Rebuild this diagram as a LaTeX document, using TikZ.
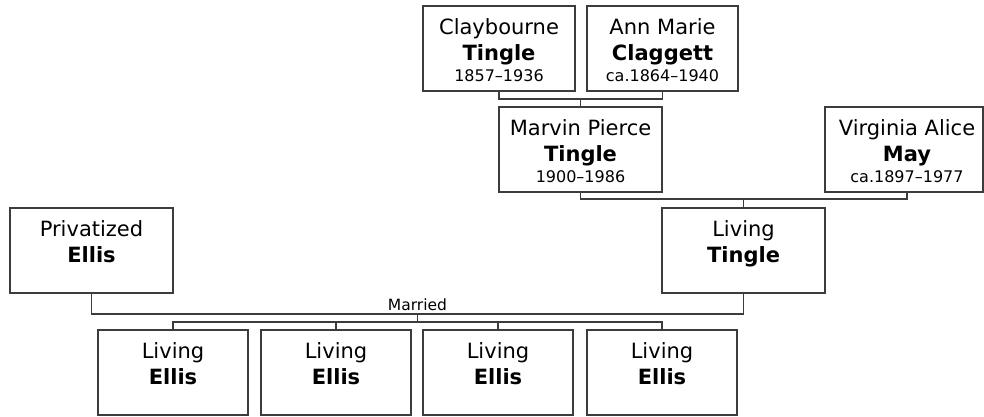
\documentclass[tikz,border=0pt]{standalone}
\usepackage{fontspec}
\setmainfont{DejaVu Sans}
\usetikzlibrary{calc}
\definecolor{linec}{RGB}{60,60,60}
\tikzset{
  pbox/.style={draw=linec, line width=1.3bp, rectangle, inner sep=0pt, outer sep=0pt, anchor=north west, minimum height=85bp},
  nametext/.style={anchor=base, inner sep=0pt, font=\fontsize{21bp}{25bp}\selectfont},
  datetext/.style={anchor=base, inner sep=0pt, font=\fontsize{16bp}{19bp}\selectfont},
  conn/.style={draw=linec, line width=1.3bp},
  marrtext/.style={anchor=base, inner sep=0pt, font=\fontsize{15.5bp}{18bp}\selectfont}
}
% #1 name, #2 left, #3 top, #4 right, #5 text centre x, #6 line1, #7 line2, #8 date
\newcommand\personbox[8]{%
  \node[pbox, minimum width={(#4-#2)*1bp}] (#1) at (#2,#3) {};
  \node[nametext] (#1-a) at (#5,#3+28.5) {#6};
  \node[nametext] (#1-b) at (#5,#3+54.5) {\textbf{#7}};
  \node[datetext] (#1-c) at (#5,#3+75.5) {#8};
}
\begin{document}
\begin{tikzpicture}[x=1bp,y=-1bp]
\useasboundingbox (0,0) rectangle (984,416);
% grandparents
\personbox{clay}{423}{6}{575}{499}{Claybourne}{Tingle}{1857–1936}
\personbox{ann}{587}{6}{738}{662.5}{Ann Marie}{Claggett}{ca.1864–1940}
% parents
\personbox{marvin}{499}{107}{662}{580.5}{Marvin Pierce}{Tingle}{1900–1986}
\personbox{virg}{825}{107}{983}{907}{Virginia Alice}{May}{ca.1897–1977}
% couple
\personbox{priv}{10}{208}{173}{91.5}{Privatized}{Ellis}{}
\personbox{ltingle}{662}{208}{825}{743.5}{Living}{Tingle}{}
% children
\personbox{c1}{98}{330}{248}{173}{Living}{Ellis}{}
\personbox{c2}{261}{330}{411}{336}{Living}{Ellis}{}
\personbox{c3}{423}{330}{573}{498}{Living}{Ellis}{}
\personbox{c4}{587}{330}{737}{662}{Living}{Ellis}{}
% connectors: Claybourne + Ann Marie
\draw[conn] (clay.south) -- ++(0,8) coordinate (cbar) -| (ann.south);
\coordinate (m1) at (marvin.north |- cbar);
\draw[conn] (m1) -- (marvin.north);
% Marvin + Virginia
\coordinate (vs) at (907,192);
\draw[conn] (marvin.south) -- ++(0,7) coordinate (mbar) -| (vs);
\coordinate (m2) at (ltingle.north |- mbar);
\draw[conn] (m2) -- (ltingle.north);
% Privatized + Living Tingle
\draw[conn] (priv.south) -- ++(0,21) coordinate (pbar) -| (ltingle.south);
\coordinate (m3) at (417.5,314);
\node[marrtext] (married) at (417.5,310) {Married};
\coordinate (kbar) at (417.5,322);
\draw[conn] (m3) -- (kbar);
\draw[conn] (c1.north) -- (c1.north |- kbar) -- (c4.north |- kbar) -- (c4.north);
\draw[conn] (c2.north |- kbar) -- (c2.north);
\draw[conn] (c3.north |- kbar) -- (c3.north);
\end{tikzpicture}
\end{document}
